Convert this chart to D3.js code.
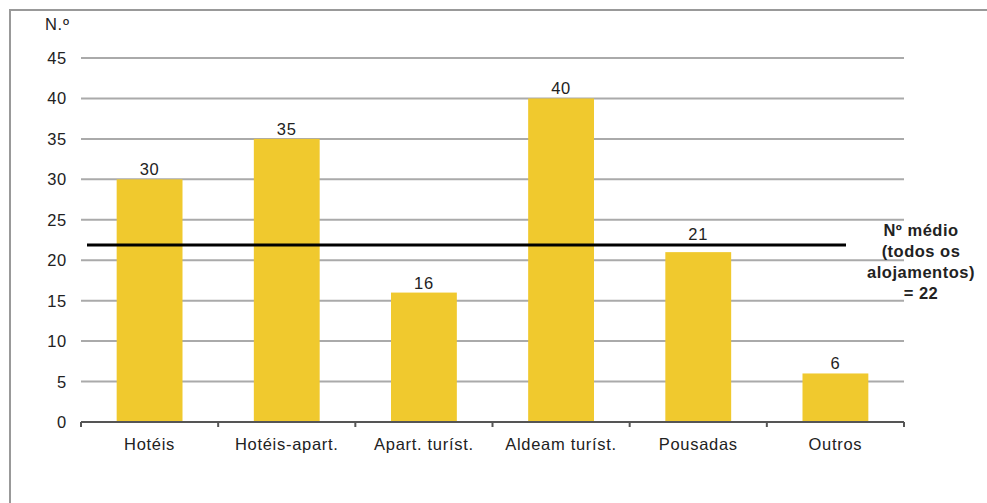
<!DOCTYPE html>
<html>
<head>
<meta charset="utf-8">
<script src="https://cdn.jsdelivr.net/npm/d3@7.9.0/dist/d3.min.js"></script>
<style>
  body { margin: 0; background: #fff; }
  svg { font-family: "Liberation Sans", Arial, sans-serif; }
</style>
</head>
<body>
<svg id="chart" width="987" height="503"></svg>
<script>
const categories = ['Hotéis', 'Hotéis-apart.', 'Apart. turíst.', 'Aldeam turíst.', 'Pousadas', 'Outros'];
const values = [30, 35, 16, 40, 21, 6];
const yTicks = [0, 5, 10, 15, 20, 25, 30, 35, 40, 45];
const average = 22;
const averageLabel = ['Nº médio', '(todos os', 'alojamentos)', '= 22'];

const svg = d3.select('#chart');
const fs = 16.5;
const ls = 0.7;

// outer frame (open on right and bottom)
svg.append('path')
  .attr('d', 'M10,503 L10,10 L987,10')
  .attr('fill', 'none')
  .attr('stroke', '#999')
  .attr('stroke-width', 2);

const x = d3.scaleBand().domain(categories).range([81, 904]).paddingInner(0.52).paddingOuter(0.26);
const y = d3.scaleLinear().domain([0, 45]).range([422, 58]);

// gridlines
svg.append('g')
  .selectAll('line')
  .data(yTicks.filter((d) => d > 0))
  .join('line')
  .attr('x1', 81)
  .attr('x2', 904)
  .attr('y1', (d) => y(d))
  .attr('y2', (d) => y(d))
  .attr('stroke', '#aaa')
  .attr('stroke-width', 2);

// y tick labels
svg.append('g')
  .selectAll('text')
  .data(yTicks)
  .join('text')
  .attr('x', 67)
  .attr('y', (d) => y(d) + 6)
  .attr('text-anchor', 'end')
  .attr('font-size', fs)
  .attr('letter-spacing', ls)
  .attr('fill', '#222')
  .text((d) => d);

svg.append('text')
  .attr('x', 45)
  .attr('y', 30)
  .attr('font-size', fs)
  .attr('letter-spacing', ls)
  .attr('fill', '#222')
  .text('N.º');

// bars
svg.append('g')
  .selectAll('rect')
  .data(values)
  .join('rect')
  .attr('x', (d, i) => x(categories[i]))
  .attr('width', x.bandwidth())
  .attr('y', (d) => y(d))
  .attr('height', (d) => y(0) - y(d))
  .attr('fill', '#f0c92e');

// value labels (lifted above the average line when they would collide)
const avgY = y(average) + 1;
svg.append('g')
  .selectAll('text')
  .data(values)
  .join('text')
  .attr('x', (d, i) => x(categories[i]) + x.bandwidth() / 2)
  .attr('y', (d) => {
    const ly = y(d) - 4;
    return (ly > avgY - 3 && ly - 14 < avgY + 3) ? avgY - 5 : ly;
  })
  .attr('text-anchor', 'middle')
  .attr('font-size', fs)
  .attr('letter-spacing', ls)
  .attr('fill', '#222')
  .text((d) => d);

// x axis
const xa = svg.append('g');
xa.append('line')
  .attr('x1', 81).attr('x2', 904)
  .attr('y1', y(0)).attr('y2', y(0))
  .attr('stroke', '#555')
  .attr('stroke-width', 2);
xa.selectAll('line.tick')
  .data(d3.range(categories.length + 1))
  .join('line')
  .attr('class', 'tick')
  .attr('x1', (i) => 81 + i * (823 / categories.length))
  .attr('x2', (i) => 81 + i * (823 / categories.length))
  .attr('y1', y(0))
  .attr('y2', y(0) + 5)
  .attr('stroke', '#555')
  .attr('stroke-width', 2);
xa.selectAll('text')
  .data(categories)
  .join('text')
  .attr('x', (d) => x(d) + x.bandwidth() / 2)
  .attr('y', 450)
  .attr('text-anchor', 'middle')
  .attr('font-size', fs)
  .attr('letter-spacing', ls)
  .attr('fill', '#222')
  .text((d) => d);

// average line
svg.append('line')
  .attr('x1', 87).attr('x2', 846)
  .attr('y1', avgY).attr('y2', avgY)
  .attr('stroke', '#000')
  .attr('stroke-width', 3);

svg.append('text')
  .attr('font-size', 16.5)
  .attr('font-weight', 'bold')
  .attr('letter-spacing', 0.5)
  .attr('fill', '#222')
  .attr('text-anchor', 'middle')
  .selectAll('tspan')
  .data(averageLabel)
  .join('tspan')
  .attr('x', 921)
  .attr('y', (d, i) => 236 + i * 21)
  .text((d) => d);
</script>
</body>
</html>
